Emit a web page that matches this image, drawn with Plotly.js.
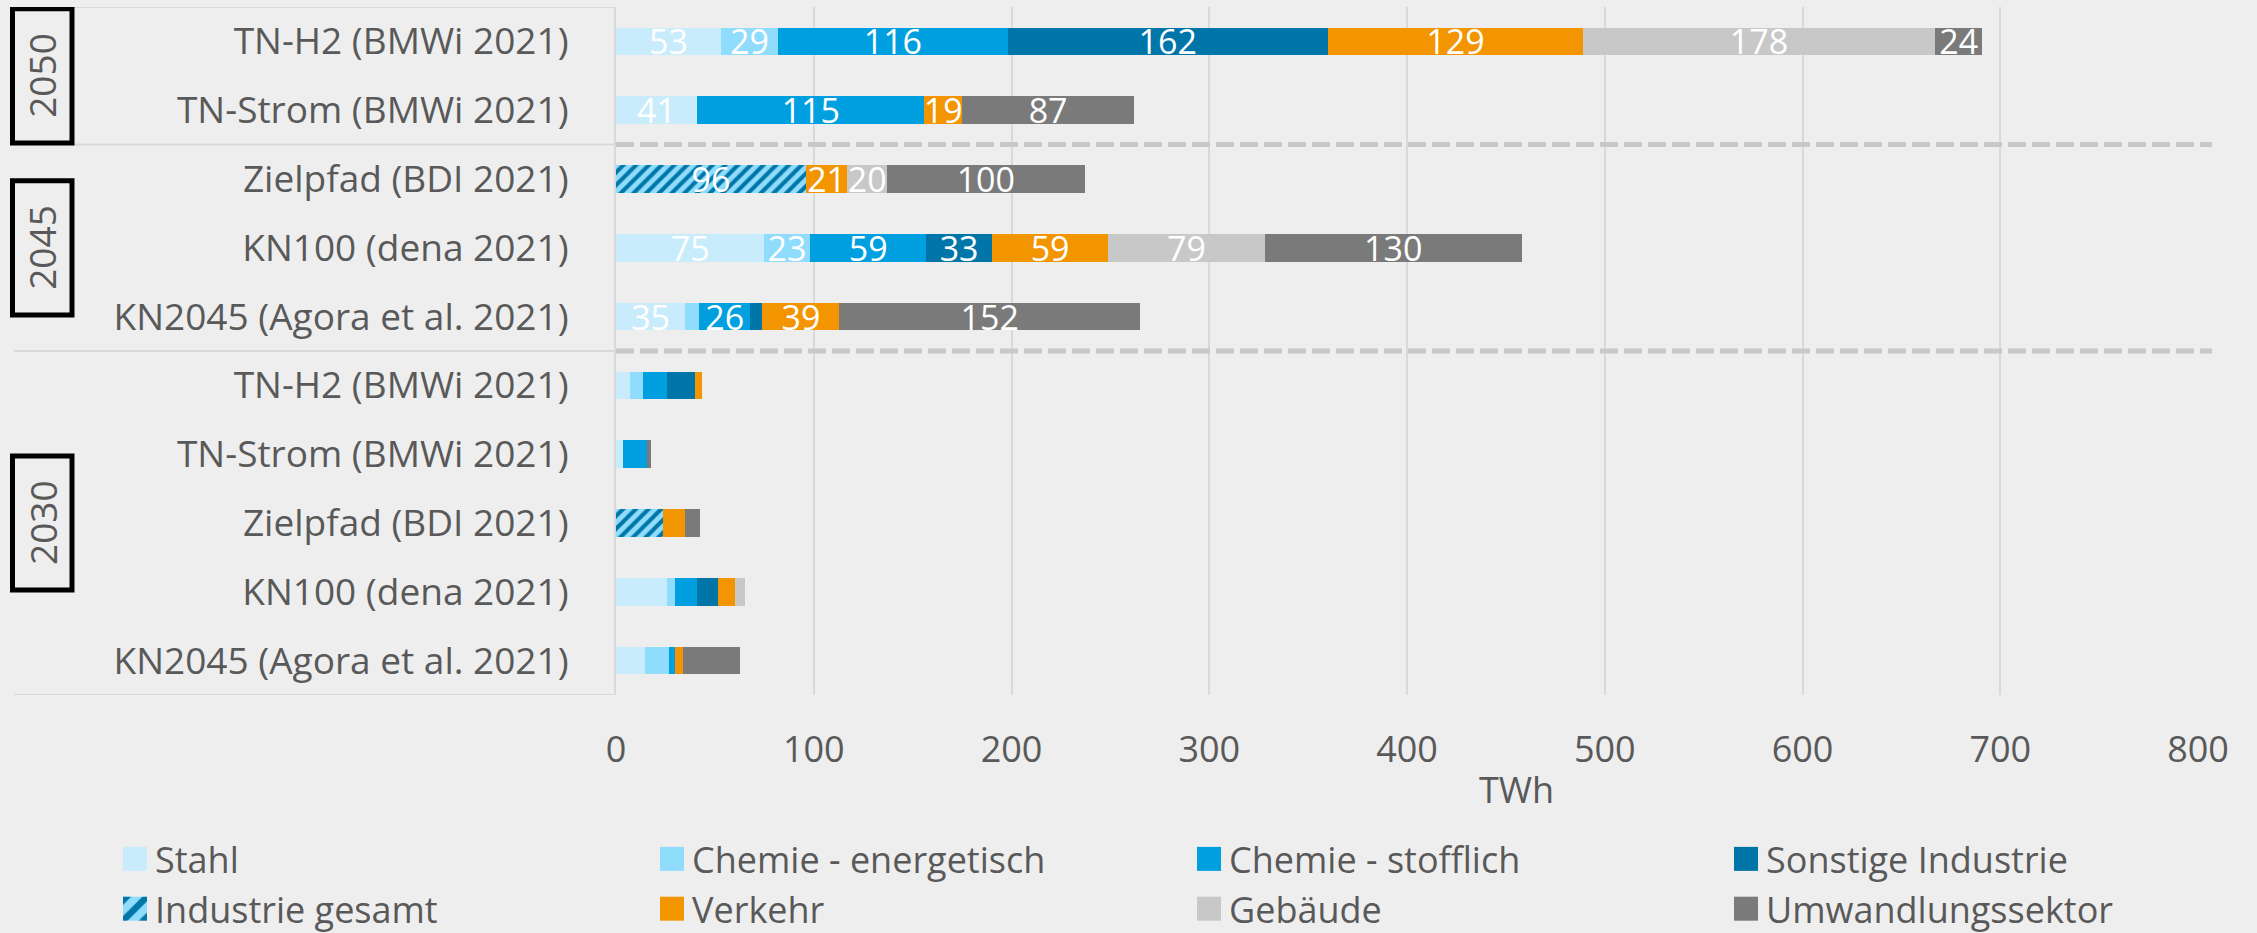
<!DOCTYPE html>
<html>
<head>
<meta charset="utf-8">
<script src="https://cdn.plot.ly/plotly-3.0.1.min.js"></script>
<style>html,body{margin:0;padding:0;background:#eeeeee;}</style>
</head>
<body>
<div id="chart" style="width:2257px;height:933px;"></div>
<script>
// ---- data (rows top to bottom) ----
const rows = ["TN-H2 (BMWi 2021)", "TN-Strom (BMWi 2021)", "Zielpfad (BDI 2021)", "KN100 (dena 2021)", "KN2045 (Agora et al. 2021)",
              "TN-H2 (BMWi 2021)", "TN-Strom (BMWi 2021)", "Zielpfad (BDI 2021)", "KN100 (dena 2021)", "KN2045 (Agora et al. 2021)"];
const years = ["2050", "2050", "2045", "2045", "2045", "2030", "2030", "2030", "2030", "2030"];

const stahl         = [53, 41, 0, 75, 35, 7, 3.5, 0, 25.6, 14.7];
const chemieEnerg   = [29, 0, 0, 23, 7, 6.4, 0, 0, 4.2, 12.1];
const chemieStoff   = [116, 115, 0, 59, 26, 12.3, 12.3, 0, 11, 3];
const sonstigeInd   = [162, 0, 0, 33, 6, 14.2, 0, 0, 10.8, 0];
const industrieGes  = [0, 0, 96, 0, 0, 0, 0, 23.6, 0, 0];
const verkehr       = [129, 19, 21, 59, 39, 3.8, 0, 11.1, 8.6, 3.9];
const gebaeude      = [178, 0, 20, 79, 0, 0, 0, 0, 5.2, 0];
const umwandlung    = [24, 87, 100, 130, 152, 0, 2, 7.9, 0, 29];

const seriesNames = ["Stahl", "Chemie - energetisch", "Chemie - stofflich", "Sonstige Industrie",
                     "Industrie gesamt", "Verkehr", "Gebäude", "Umwandlungssektor"];
const seriesValues = [stahl, chemieEnerg, chemieStoff, sonstigeInd, industrieGes, verkehr, gebaeude, umwandlung];
const seriesColors = ["#c8ecfc", "#8fdcfc", "#009fe0", "#0076a8", "#8fdcfc", "#f39500", "#c8c8c8", "#7a7a7a"];
const xTicks = [0, 100, 200, 300, 400, 500, 600, 700, 800];

// ---- layout constants ----
const FONT = "Open Sans, Liberation Sans, sans-serif";
const TXT = "#595959";
const PL = 616, PR = 2198, PT = 7, PB = 695; // plot area px
const px = p => (p - PL) / (PR - PL);
const py = p => 1 - (p - PT) / (PB - PT);

const rowIdx = rows.map((_, i) => i);

const traces = seriesNames.map((name, s) => {
  const vals = seriesValues[s];
  const t = {
    type: "bar", orientation: "h", name: name,
    y: rowIdx, x: vals,
    text: vals.map((v, i) => (years[i] !== "2030" && v >= 15) ? String(Math.round(v)) : ""),
    textposition: "inside", insidetextanchor: "middle", textangle: 0, constraintext: "none",
    textfont: {family: FONT, size: 34, color: "#ffffff"},
    marker: {color: seriesColors[s], line: {width: 0}},
    hoverinfo: "skip", cliponaxis: false
  };
  if (name === "Industrie gesamt") {
    t.marker.pattern = {shape: "/", fgcolor: "#0076a8", bgcolor: "#8fdcfc", size: 9, solidity: 0.45, fillmode: "replace"};
  }
  return t;
});

// group info derived from years
const groups = [...new Set(years)].map(y => {
  const idx = years.map((v, i) => v === y ? i : -1).filter(i => i >= 0);
  return {year: y, first: idx[0], last: idx[idx.length - 1], center: (idx[0] + idx[idx.length - 1]) / 2};
});

const shapes = [];
const annotations = [];
shapes.push({type: "line", xref: "paper", yref: "y", x0: px(74), x1: px(PL), y0: -0.5, y1: -0.5,
             line: {color: "#d9d9d9", width: 2}, layer: "below"});
groups.forEach((g, gi) => {
  const yb = g.last + 0.5;
  const leftStart = gi === 0 ? 74 : 14;
  shapes.push({type: "line", xref: "paper", yref: "y", x0: px(leftStart), x1: px(PL), y0: yb, y1: yb,
               line: {color: "#d9d9d9", width: 2}});
  if (gi < groups.length - 1) {
    shapes.push({type: "line", xref: "paper", yref: "y", x0: 0, x1: px(2212), y0: yb, y1: yb,
                 line: {color: "#c8c8c8", width: 5, dash: "18px,6px"}});
  }
  shapes.push({type: "rect", xref: "paper", yref: "y", x0: px(12.5), x1: px(72), y0: g.center - 0.975, y1: g.center + 0.975,
               line: {color: "#000000", width: 5}, fillcolor: "rgba(0,0,0,0)"});
  annotations.push({xref: "paper", yref: "y", x: px(42), y: g.center, text: g.year, showarrow: false,
                    textangle: -90, xanchor: "center", yanchor: "middle",
                    font: {family: FONT, size: 37, color: TXT}});
});
annotations.push({xref: "paper", yref: "paper", x: px(1516), y: py(790), text: "TWh", showarrow: false,
                  xanchor: "center", yanchor: "middle", font: {family: FONT, size: 36, color: TXT}});

const layout = {
  width: 2257, height: 933,
  paper_bgcolor: "#eeeeee", plot_bgcolor: "#eeeeee",
  margin: {l: PL, r: 2257 - PR, t: PT, b: 933 - PB, pad: 0, autoexpand: false},
  barmode: "stack", bargap: 0.6,
  font: {family: FONT, color: TXT},
  xaxis: {range: [0, 800], tickvals: xTicks, ticktext: xTicks.map(String), automargin: false,
          showgrid: true, gridcolor: "#d9d9d9", gridwidth: 2, zeroline: false, showline: false,
          ticks: "", tickfont: {family: FONT, size: 36, color: TXT}, ticklabelstandoff: 30, fixedrange: true},
  yaxis: {range: [9.5, -0.5], tickvals: rowIdx, ticktext: rows, showgrid: false, zeroline: false, automargin: false,
          showline: true, linecolor: "#d9d9d9", linewidth: 2, ticks: "",
          tickfont: {family: FONT, size: 37, color: TXT}, ticklabelstandoff: 38, fixedrange: true},
  showlegend: true,
  legend: {orientation: "h", xref: "paper", yref: "paper", x: px(115), y: py(829),
           xanchor: "left", yanchor: "top", entrywidth: 492, entrywidthmode: "pixels",
           font: {family: FONT, size: 36, color: TXT}, bgcolor: "rgba(0,0,0,0)", traceorder: "normal"},
  shapes: shapes, annotations: annotations
};

Plotly.newPlot("chart", traces, layout, {displayModeBar: false, staticPlot: true}).then(gd => {
  // enlarge legend swatches to match reference size and place them closer to the text
  gd.querySelectorAll(".legend .legendpoints path").forEach(p => p.setAttribute("transform", "translate(20,0) scale(2)"));
});
</script>
</body>
</html>
